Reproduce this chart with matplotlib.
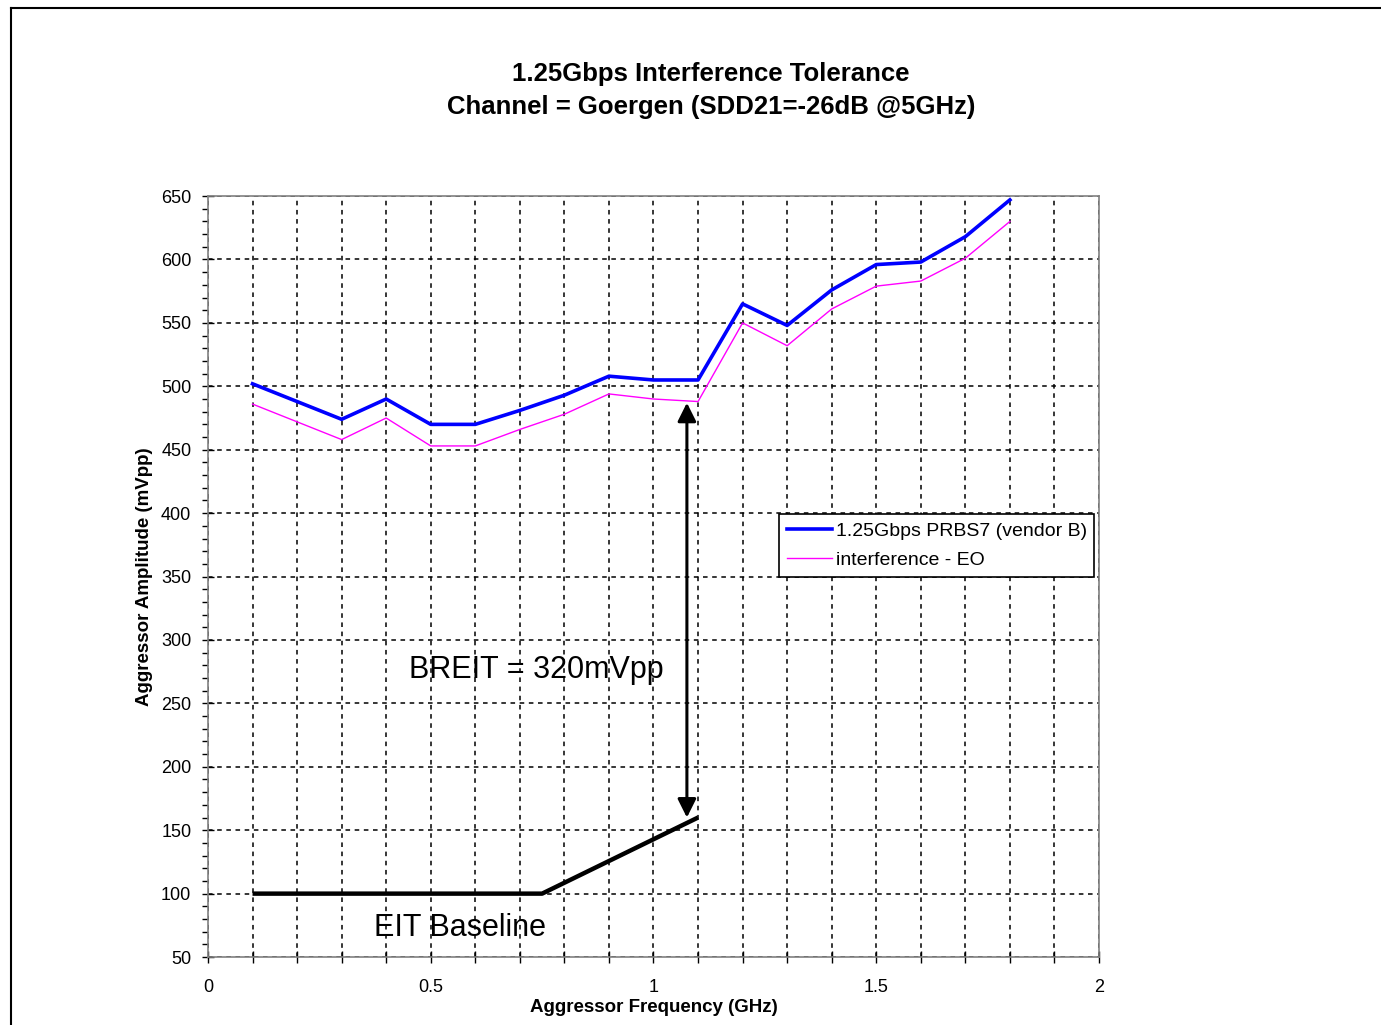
import matplotlib
matplotlib.use("Agg")
import matplotlib.pyplot as plt
from matplotlib.lines import Line2D
from matplotlib.ticker import MultipleLocator, FuncFormatter

plt.rcParams['font.family'] = ['Liberation Sans', 'DejaVu Sans']

# aggressor frequency (GHz)
freq = [0.1, 0.2, 0.3, 0.4, 0.5, 0.6, 0.7, 0.8, 0.9,
        1.0, 1.1, 1.2, 1.3, 1.4, 1.5, 1.6, 1.7, 1.8]
# 1.25Gbps PRBS7 (vendor B)
vendor_b = [502, 488, 474, 490, 470, 470, 481, 493, 508,
            505, 505, 565, 548, 576, 596, 598, 618, 647]
# interference - EO
interf_eo = [486, 472, 458, 475, 453, 453, 466, 478, 494,
             490, 488, 550, 532, 561, 579, 583, 601, 630]
# EIT baseline
base_x = [0.1, 0.75, 1.1]
base_y = [100, 100, 160]

arrow_x = 1.075
arrow_lo = 160
arrow_hi = 487

fig = plt.figure(figsize=(13.81, 10.25), dpi=100)
ax = fig.add_axes([0.1506, 0.0663, 0.6452, 0.7424])

ax.plot(freq, vendor_b, color='#0000ff', lw=2.6, label='1.25Gbps PRBS7 (vendor B)', zorder=4)
ax.plot(freq, interf_eo, color='#ff00ff', lw=1.0, label='interference - EO', zorder=4)
ax.plot(base_x, base_y, color='black', lw=3.2, solid_capstyle='butt', zorder=4)

ax.annotate('', xy=(arrow_x, arrow_hi), xytext=(arrow_x, arrow_lo),
            arrowprops=dict(arrowstyle='<|-|>', color='black', lw=2.2,
                            mutation_scale=28, shrinkA=0, shrinkB=0), zorder=5)

ax.text(0.736, 276, 'BREIT = 320mVpp', fontsize=22, ha='center', va='center')
ax.text(0.566, 73, 'EIT Baseline', fontsize=22, ha='center', va='center')

ax.set_xlim(0, 2)
ax.set_ylim(50, 650)
ax.xaxis.set_major_locator(MultipleLocator(0.5))
ax.xaxis.set_minor_locator(MultipleLocator(0.1))
ax.yaxis.set_major_locator(MultipleLocator(50))
ax.yaxis.set_minor_locator(MultipleLocator(10))
ax.xaxis.set_major_formatter(FuncFormatter(lambda v, p: f'{v:g}'))

ax.tick_params(axis='x', which='both', direction='inout', length=8, width=1, pad=12, labelsize=13)
ax.tick_params(axis='y', which='major', direction='inout', length=8, width=1, pad=8, labelsize=13)
ax.tick_params(axis='y', which='minor', direction='out', length=4, width=1)

ax.grid(True, which='major', axis='y', color='black', ls=(0, (3, 3)), lw=1.1)
ax.grid(True, which='both', axis='x', color='black', ls=(0, (3, 3)), lw=1.1)
ax.set_axisbelow(True)
for s in ax.spines.values():
    s.set_color('#808080')
    s.set_linewidth(1.2)

ax.set_xlabel('Aggressor Frequency (GHz)', fontsize=13.5, fontweight='bold', labelpad=2)
ax.set_ylabel('Aggressor Amplitude (mVpp)', fontsize=13.5, fontweight='bold', labelpad=6)

fig.text(0.515, 0.928, '1.25Gbps Interference Tolerance', fontsize=18.5, fontweight='bold',
         ha='center', va='center')
fig.text(0.515, 0.896, 'Channel = Goergen (SDD21=-26dB @5GHz)', fontsize=18.5, fontweight='bold',
         ha='center', va='center')

leg = ax.legend(loc='upper left', bbox_to_anchor=(0.641, 0.582), fontsize=14,
                frameon=True, fancybox=False, framealpha=1, edgecolor='black',
                handlelength=2.3, handletextpad=0.2, borderpad=0.4, labelspacing=0.6,
                borderaxespad=0)
leg.get_frame().set_linewidth(1.2)

# outer chart frame
fig.add_artist(Line2D([0.008, 0.008], [0.0, 0.992], color='black', lw=1.5, transform=fig.transFigure))
fig.add_artist(Line2D([0.008, 1.0], [0.992, 0.992], color='black', lw=1.5, transform=fig.transFigure))

fig.savefig('out.png', dpi=100)
